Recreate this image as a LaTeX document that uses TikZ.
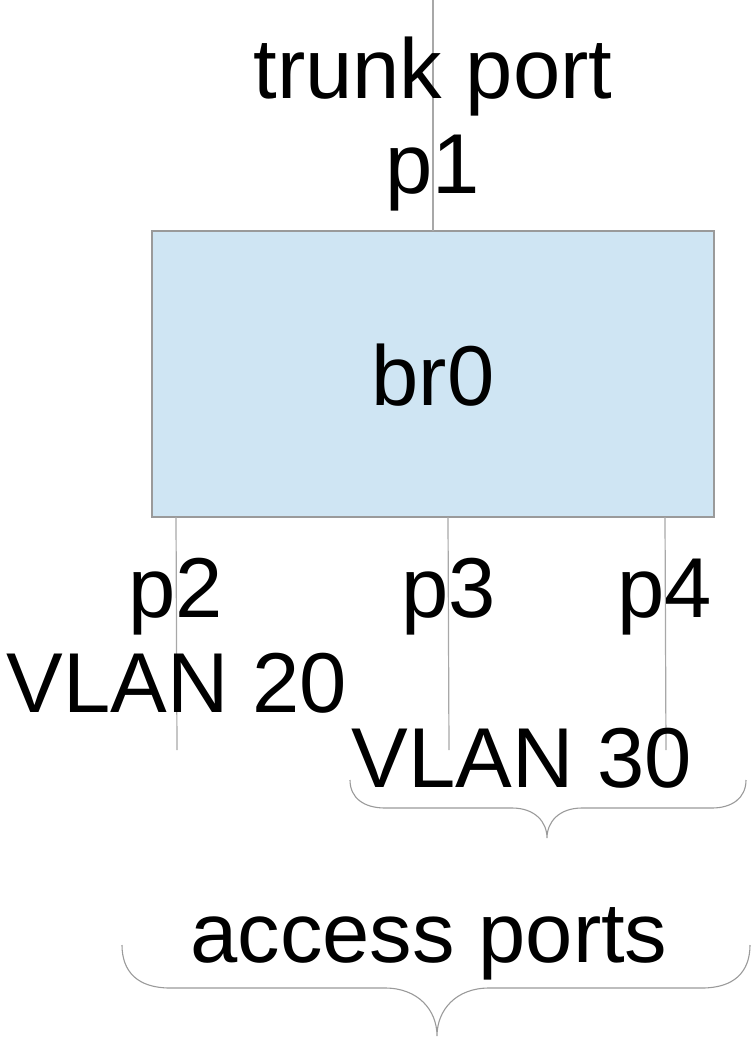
\documentclass[tikz,border=0pt]{standalone}
\usepackage{fontspec}
\setmainfont{Liberation Sans}
\definecolor{boxfill}{HTML}{CFE5F3}
\definecolor{boxline}{HTML}{9A9A9A}
\definecolor{wire}{HTML}{A8A8A8}
\begin{document}
\begin{tikzpicture}[x=1pt,y=-1pt,
  lbl/.style={anchor=base,inner sep=0pt,font=\fontsize{85}{85}\selectfont},
  wireline/.style={draw=wire,line width=1.2pt},
  bracel/.style={draw=boxline,line width=1.1pt},
  bridge/.style={draw=boxline,fill=boxfill,line width=1.2pt}]
\useasboundingbox (0,0) rectangle (751,1039);
% bridge box
\path[bridge] (152,231) rectangle (714,517);
\coordinate (boxtop) at (433,231);
\coordinate (b2) at (176,517);
\coordinate (b3) at (448,517);
\coordinate (b4) at (665,517);
\coordinate (topend) at (433,0);
\coordinate (e2) at (177,750);
\coordinate (e3) at (449,750);
\coordinate (e4) at (666,750);
% wires
\draw[wireline] (topend) -- (boxtop);
\draw[wireline] (b2) -- (e2);
\draw[wireline] (b3) -- (e3);
\draw[wireline] (b4) -- (e4);
% labels
\node[lbl] (trunk) at (433,98) {trunk port};
\node[lbl] (p1) at (433,193) {p1};
\node[lbl] (br0) at (433,405) {br0};
\node[lbl] (p2) at (176,617) {p2};
\node[lbl] (p3) at (449,617) {p3};
\node[lbl] (p4) at (665,617) {p4};
\node[lbl] (v20) at (177,712) {VLAN 20};
\node[lbl] (v30) at (522,787) {VLAN 30};
\node[lbl] (acc) at (429,962) {access ports};
% braces
\draw[bracel] (350,780) .. controls (350,798) and (364,808) .. (385,808)
  -- (512,808) .. controls (535,808) and (547,822) .. (547,838)
  .. controls (547,822) and (559,808) .. (582,808)
  -- (712,808) .. controls (732,808) and (746,798) .. (746,780);
\draw[bracel] (122,945) .. controls (122,972) and (138,988) .. (170,988)
  -- (385,988) .. controls (418,988) and (437,1010) .. (437,1036)
  .. controls (437,1010) and (456,988) .. (489,988)
  -- (702,988) .. controls (734,988) and (750,972) .. (750,945);
\end{tikzpicture}
\end{document}
